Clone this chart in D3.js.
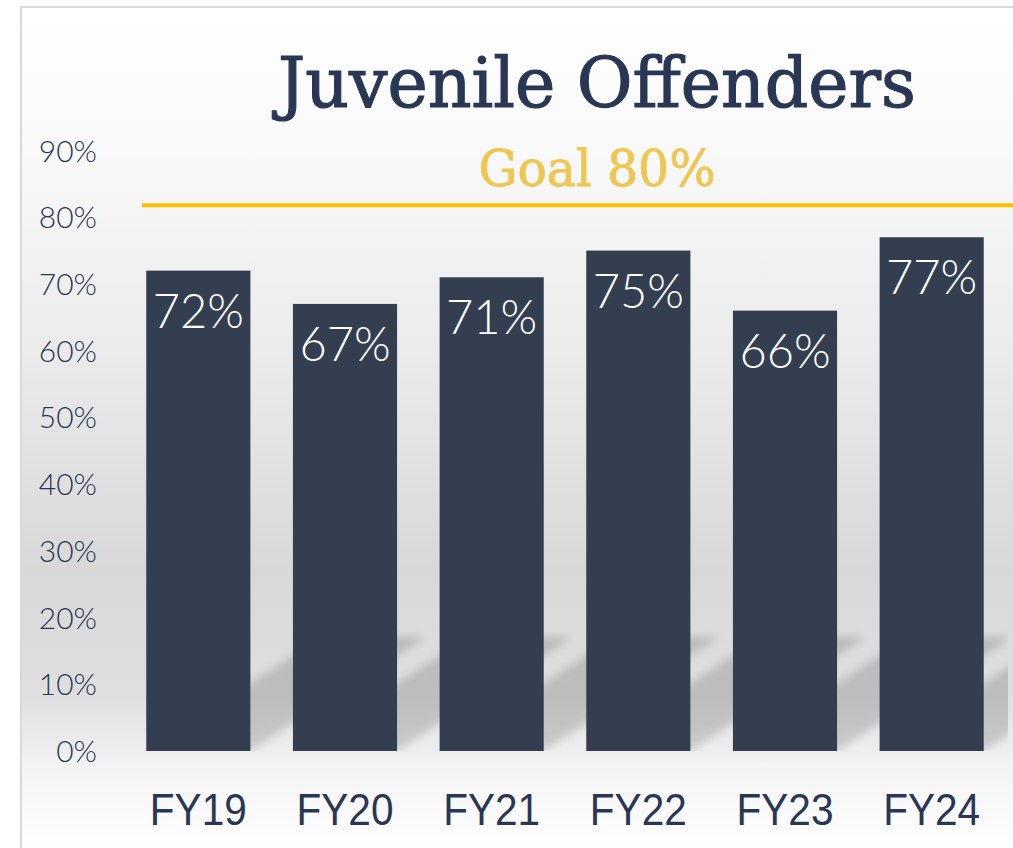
<!DOCTYPE html>
<html>
<head>
<meta charset="utf-8">
<script src="https://cdn.jsdelivr.net/npm/d3@7"></script>
<style>
  body { margin: 0; background: #fff; }
  svg { display: block; }
</style>
</head>
<body>
<svg id="mainsvg" width="1013" height="848"></svg>
<script>
// data
const years = ['FY19', 'FY20', 'FY21', 'FY22', 'FY23', 'FY24'];
const rates = [72, 67, 71, 75, 66, 77];
const yTicks = [0, 10, 20, 30, 40, 50, 60, 70, 80, 90];
const goalText = 'Goal 80%';
const goalLineLevel = 81.8; // the gold line sits a bit above 80 in the picture
const title = 'Juvenile Offenders';

const svg = d3.select('#mainsvg');
const width = +svg.attr('width');
const height = +svg.attr('height');

const navy = '#2a3754';
const barColor = '#333f50';

const x = d3.scaleBand()
  .domain(years)
  .range([125, 1005])
  .paddingInner(0.29)
  .paddingOuter(0.145);

const y = d3.scaleLinear()
  .domain([0, 90])
  .range([751, 150.5]);

const defs = svg.append('defs');

// background gradient: white on top, gray towards the base, white again at the bottom
const bg = defs.append('linearGradient')
  .attr('id', 'bg')
  .attr('gradientUnits', 'userSpaceOnUse')
  .attr('x1', 0).attr('x2', 0).attr('y1', 6).attr('y2', height);
[[0, '#ffffff'], [0.17, '#f9f9f9'], [0.41, '#ebebeb'], [0.67, '#d8d8d8'],
 [0.82, '#dfdfdf'], [0.885, '#eeeeee'], [0.9, '#f3f3f3'], [1, '#ffffff']]
  .forEach(s => bg.append('stop').attr('offset', s[0]).attr('stop-color', s[1]));

const blur = defs.append('filter').attr('id', 'blur')
  .attr('x', '-20%').attr('y', '-20%').attr('width', '140%').attr('height', '140%');
blur.append('feGaussianBlur').attr('stdDeviation', 4);

defs.append('clipPath').attr('id', 'plotclip')
  .append('rect')
  .attr('x', 20).attr('y', 6)
  .attr('width', 1008 - 20).attr('height', y(0) - 6);

svg.append('rect')
  .attr('x', 20).attr('y', 6)
  .attr('width', width - 20).attr('height', height - 6)
  .attr('fill', 'url(#bg)');

// light frame of the chart area
svg.append('path')
  .attr('d', `M21,${height}V7H${width}`)
  .attr('fill', 'none')
  .attr('stroke', '#d9d9d9')
  .attr('stroke-width', 2);

// title
svg.append('text')
  .attr('x', 597)
  .attr('y', 107)
  .attr('text-anchor', 'middle')
  .attr('font-family', 'DejaVu Serif')
  .attr('font-size', 70)
  .attr('fill', navy)
  .attr('stroke', navy)
  .attr('stroke-width', 1.2)
  .attr('textLength', 638)
  .attr('lengthAdjust', 'spacingAndGlyphs')
  .text(title);

// slanted shadows behind the bars
const shadowDx = 175, shadowDy = 114;
const g = svg.append('g');
g.append('g')
  .attr('clip-path', 'url(#plotclip)')
  .selectAll('path')
  .data(years)
  .join('path')
  .attr('d', d => {
    const x0 = x(d), x1 = x(d) + x.bandwidth(), b = y(0);
    return `M${x0},${b}L${x1},${b}L${x1 + shadowDx},${b - shadowDy}L${x0 + shadowDx},${b - shadowDy}Z`;
  })
  .attr('fill', '#000')
  .attr('opacity', 0.15)
  .attr('filter', 'url(#blur)');

// y axis
const yAxis = svg.append('g')
  .attr('transform', 'translate(105,0)')
  .call(d3.axisLeft(y).tickValues(yTicks).tickSize(0).tickPadding(8).tickFormat(d => d + '%'));
yAxis.select('.domain').remove();
yAxis.selectAll('text')
  .attr('font-family', 'Lato, sans-serif')
  .attr('font-weight', 300)
  .attr('font-size', 30)
  .attr('fill', navy)
  .attr('dy', '0.35em');

// bars
g.selectAll('rect.bar')
  .data(rates)
  .join('rect')
  .attr('class', 'bar')
  .attr('x', (d, i) => x(years[i]))
  .attr('y', d => y(d))
  .attr('width', x.bandwidth())
  .attr('height', d => y(0) - y(d))
  .attr('fill', barColor);

g.selectAll('text.val')
  .data(rates)
  .join('text')
  .attr('class', 'val')
  .attr('x', (d, i) => x(years[i]) + x.bandwidth() / 2)
  .attr('y', d => y(d) + 57)
  .attr('text-anchor', 'middle')
  .attr('font-family', 'Lato, sans-serif')
  .attr('font-weight', 300)
  .attr('font-size', 47)
  .attr('fill', '#fff')
  .text(d => d + '%');

// goal line and label
svg.append('line')
  .attr('x1', 142).attr('x2', width)
  .attr('y1', y(goalLineLevel)).attr('y2', y(goalLineLevel))
  .attr('stroke', '#ffc000')
  .attr('stroke-width', 4);

svg.append('text')
  .attr('x', 597)
  .attr('y', 186)
  .attr('text-anchor', 'middle')
  .attr('font-family', 'DejaVu Serif')
  .attr('font-size', 51)
  .attr('fill', '#efc650')
  .attr('stroke', '#efc650')
  .attr('stroke-width', 0.8)
  .attr('textLength', 237)
  .attr('lengthAdjust', 'spacingAndGlyphs')
  .text(goalText);

// x axis
const xAxis = svg.append('g')
  .attr('transform', `translate(0,${y(0)})`)
  .call(d3.axisBottom(x).tickSize(0));
xAxis.select('.domain').remove();
xAxis.selectAll('text')
  .attr('y', 74)
  .attr('dy', 0)
  .attr('font-family', 'Liberation Sans, Arial, sans-serif')
  .attr('font-size', 45)
  .attr('fill', navy)
  .attr('textLength', 97)
  .attr('lengthAdjust', 'spacingAndGlyphs');
</script>
</body>
</html>
